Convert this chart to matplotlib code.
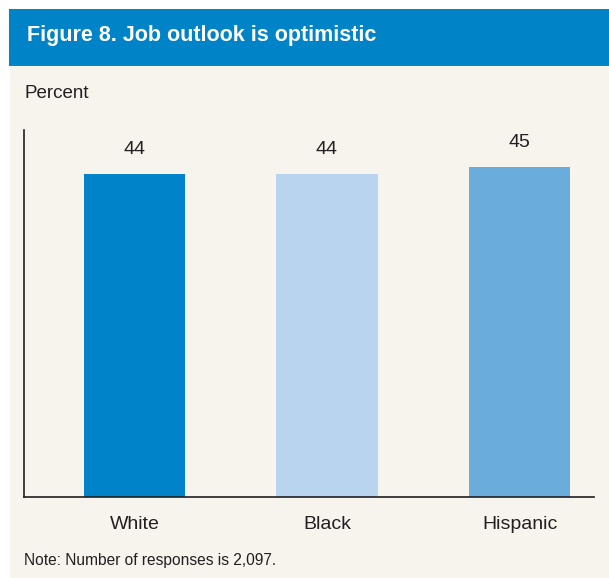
import matplotlib.pyplot as plt
from matplotlib.patches import Rectangle

# Data
groups = ['White', 'Black', 'Hispanic']
percent = [44, 44, 45]
bar_colors = ['#0083c8', '#b8d4ee', '#6aacdc']

plt.rcParams['font.family'] = ['Liberation Sans', 'DejaVu Sans']

fig = plt.figure(figsize=(6.09, 5.78), dpi=100)
fig.patch.set_facecolor('white')

# Background panel and title bar
fig.add_artist(Rectangle((10 / 609, 0), 1, 512 / 578, transform=fig.transFigure,
                         facecolor='#f7f4ee', edgecolor='none', zorder=0))
fig.add_artist(Rectangle((9 / 609, 512 / 578), 1, 57 / 578, transform=fig.transFigure,
                         facecolor='#0083c7', edgecolor='none', zorder=0))
fig.text(27 / 609, 1 - 35 / 578, 'Figure 8. Job outlook is optimistic', color='white',
         fontsize=15.5, fontweight='bold', va='center', ha='left')
fig.text(24 / 609, 1 - 94 / 578, 'Percent', fontsize=13.5, color='#231f20',
         va='center', ha='left')
fig.text(24 / 609, 1 - 560 / 578, 'Note: Number of responses is 2,097.', fontsize=11.2,
         color='#231f20', va='center', ha='left')

ax = fig.add_axes([24 / 609, 81 / 578, 570 / 609, 367 / 578])
ax.set_facecolor('none')
x = range(len(groups))
bars = ax.bar(x, percent, width=0.525, color=bar_colors)
for xi, v in zip(x, percent):
    ax.text(xi, v + 2.2, str(v), ha='center', va='bottom', fontsize=14, color='#231f20')

ax.set_xlim(-0.574, 2.387)
ax.set_ylim(0, 50)
ax.set_xticks(list(x))
ax.set_xticklabels(groups, fontsize=14, color='#231f20')
ax.tick_params(axis='x', length=0, pad=14)
ax.set_yticks([])
for s in ['top', 'right']:
    ax.spines[s].set_visible(False)
for s in ['left', 'bottom']:
    ax.spines[s].set_color('#231f20')
    ax.spines[s].set_linewidth(1.2)

plt.savefig('out.png', dpi=100)
